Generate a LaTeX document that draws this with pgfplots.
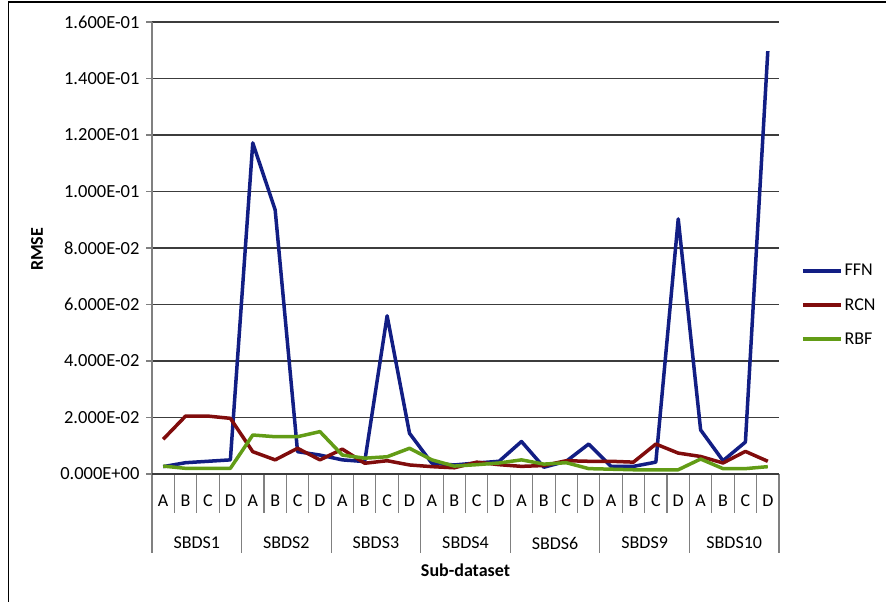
\documentclass[border=0pt]{standalone}
\usepackage{fontspec}
\setmainfont{Carlito}
\usepackage{pgfplots}
\pgfplotsset{compat=1.18}
\definecolor{ffn}{RGB}{18,30,132}
\definecolor{rcn}{RGB}{128,12,12}
\definecolor{rbf}{RGB}{98,156,22}
\definecolor{gridc}{RGB}{60,60,60}
\definecolor{axc}{RGB}{128,128,128}
\begin{document}
\begin{tikzpicture}[x=1pt,y=1pt]
\path[use as bounding box] (0,0) rectangle (886,602);
\draw[line width=1.6pt,black] (8.5,0) -- (8.5,600) -- (886,600);
\begin{axis}[
  at={(152pt,128pt)}, anchor=south west,
  scale only axis, width=627pt, height=452pt,
  xmin=-0.5, xmax=27.5, ymin=0, ymax=0.16,
  clip=false,
  axis x line*=bottom, axis y line*=left,
  x axis line style={draw=none},
  y axis line style={draw=axc, line width=1.2pt, -},
  ymajorgrids, grid style={draw=gridc, line width=1.1pt},
  ytick={0,0.02,0.04,0.06,0.08,0.1,0.12,0.14,0.16},
  yticklabels={0.000E+00,2.000E-02,4.000E-02,6.000E-02,8.000E-02,1.000E-01,1.200E-01,1.400E-01,1.600E-01},
  ytick style={draw=axc, line width=1.2pt},
  tick align=outside, major tick length=6pt,
  yticklabel style={font=\fontsize{18.5}{21}\selectfont, xshift=-3pt},
  xtick={0,...,27},
  xticklabels={A,B,C,D,A,B,C,D,A,B,C,D,A,B,C,D,A,B,C,D,A,B,C,D,A,B,C,D},
  xtick style={draw=none},
  xticklabel style={font=\fontsize{18}{21}\selectfont, yshift=-11pt},
  legend style={draw=none, fill=none, at={(axis description cs:1.035,0.374)}, anchor=west,
    font=\fontsize{18}{21}\selectfont, row sep=17pt, inner sep=0pt},
  legend cell align=left,
  legend image code/.code={\draw[#1] (0pt,0pt) -- (38pt,0pt);},
  every axis plot/.append style={line width=3.5pt, line join=round},
]
\addplot[ffn] coordinates {
(0,0.0026) (1,0.0040) (2,0.0045) (3,0.0050)
(4,0.1172) (5,0.0935) (6,0.0079) (7,0.0067)
(8,0.0050) (9,0.0044) (10,0.0560) (11,0.0144)
(12,0.0038) (13,0.0032) (14,0.0039) (15,0.0045)
(16,0.0115) (17,0.0024) (18,0.0045) (19,0.0106)
(20,0.0027) (21,0.0027) (22,0.0042) (23,0.0903)
(24,0.0156) (25,0.0047) (26,0.0113) (27,0.1497)};
\addlegendentry{FFN}
\addplot[rcn] coordinates {
(0,0.0123) (1,0.0205) (2,0.0205) (3,0.0197)
(4,0.0079) (5,0.0050) (6,0.0091) (7,0.0050)
(8,0.0088) (9,0.0038) (10,0.0047) (11,0.0032)
(12,0.0026) (13,0.0022) (14,0.0042) (15,0.0033)
(16,0.0027) (17,0.0030) (18,0.0047) (19,0.0045)
(20,0.0045) (21,0.0042) (22,0.0106) (23,0.0074)
(24,0.0062) (25,0.0039) (26,0.0080) (27,0.0045)};
\addlegendentry{RCN}
\addplot[rbf] coordinates {
(0,0.0028) (1,0.0020) (2,0.0020) (3,0.0020)
(4,0.0138) (5,0.0132) (6,0.0132) (7,0.0150)
(8,0.0067) (9,0.0056) (10,0.0061) (11,0.0091)
(12,0.0050) (13,0.0028) (14,0.0033) (15,0.0039)
(16,0.0050) (17,0.0035) (18,0.0040) (19,0.0019)
(20,0.0017) (21,0.0015) (22,0.0015) (23,0.0015)
(24,0.0053) (25,0.0019) (26,0.0019) (27,0.0026)};
\addlegendentry{RBF}
% category separators
\pgfplotsinvokeforeach{0.5,1.5,2.5,4.5,5.5,6.5,8.5,9.5,10.5,12.5,13.5,14.5,16.5,17.5,18.5,20.5,21.5,22.5,24.5,25.5,26.5}{
  \draw[axc, line width=1.1pt] (axis cs:#1,0) -- ++(0pt,-39pt);
}
\pgfplotsinvokeforeach{3.5,7.5,11.5,15.5,19.5,23.5,27.5}{
  \draw[axc, line width=1.1pt] (axis cs:#1,0) -- ++(0pt,-79pt);
}
\draw[axc, line width=1.2pt] (axis cs:-0.5,0) -- ++(0pt,-79pt);
\draw[gridc, line width=1.1pt] (axis cs:-0.5,0) -- (axis cs:27.5,0);
\path (axis cs:1.5,0) ++(0pt,-69pt) node[font=\fontsize{18}{21}\selectfont] {SBDS1};
\path (axis cs:5.5,0) ++(0pt,-69pt) node[font=\fontsize{18}{21}\selectfont] {SBDS2};
\path (axis cs:9.5,0) ++(0pt,-69pt) node[font=\fontsize{18}{21}\selectfont] {SBDS3};
\path (axis cs:13.5,0) ++(0pt,-69pt) node[font=\fontsize{18}{21}\selectfont] {SBDS4};
\path (axis cs:17.5,0) ++(0pt,-69pt) node[font=\fontsize{18}{21}\selectfont] {SBDS6};
\path (axis cs:21.5,0) ++(0pt,-69pt) node[font=\fontsize{18}{21}\selectfont] {SBDS9};
\path (axis cs:25.5,0) ++(0pt,-69pt) node[font=\fontsize{18}{21}\selectfont] {SBDS10};
\path (axis cs:13.5,0) ++(0pt,-96pt) node[font=\fontsize{18}{21}\selectfont\bfseries] {Sub-dataset};
\path (axis cs:-0.5,0.0795) ++(-115pt,0pt) node[rotate=90, font=\fontsize{18}{21}\selectfont\bfseries] {RMSE};
\end{axis}
\end{tikzpicture}
\end{document}
